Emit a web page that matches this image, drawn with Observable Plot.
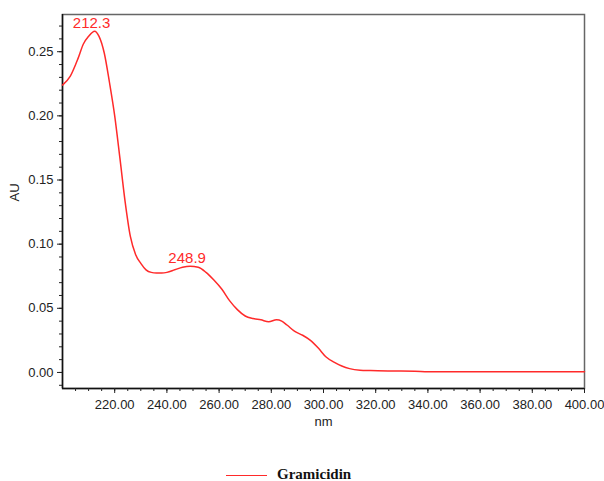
<!DOCTYPE html>
<html><head><meta charset="utf-8">
<script src="https://cdn.jsdelivr.net/npm/d3@7"></script>
<script src="https://cdn.jsdelivr.net/npm/@observablehq/plot@0.6"></script>
<style>
body{margin:0;background:#fff;font-family:"Liberation Sans",Arial,sans-serif;width:604px;height:481px;overflow:hidden}
#legend{height:15px;position:relative}
#legend .sw{position:absolute;left:226px;top:9px;width:41px;height:0;border-top:1.5px solid #ff2a2a}
#legend .lb{position:absolute;left:277px;top:1px;font:bold 15px "Liberation Serif","Times New Roman",serif;line-height:15px;color:#111}
</style>
</head><body><div id="chart"></div><div id="legend"><div class="sw"></div><div class="lb">Gramicidin</div></div>
<script>
const wavelength = [200,203,206,208,210,212.3,214,216,218,220,222,224,226,228,230,232,234,236,238,240,243,246,248.9,252,255,258,261,264,267,270,273,276,279,282,284,286,289,292,295,298,301,304,307,310,314,318,325,335,340,400];
const absorbance = [0.224,0.231,0.245,0.256,0.262,0.266,0.262,0.249,0.226,0.200,0.167,0.133,0.106,0.092,0.085,0.080,0.078,0.0775,0.0775,0.078,0.080,0.082,0.0828,0.082,0.078,0.072,0.065,0.056,0.049,0.044,0.042,0.041,0.0395,0.041,0.040,0.037,0.032,0.029,0.025,0.019,0.012,0.008,0.005,0.003,0.0018,0.0015,0.0012,0.001,0.0005,0.0005];
const peakNm = [212.3, 248.9];
const peakAU = [0.266, 0.0828];
const peakLabels = ["212.3", "248.9"];
const xTicks = [220,240,260,280,300,320,340,360,380,400];
const yTicks = [0,0.05,0.10,0.15,0.20,0.25];
const xMinor = d3.range(205, 400, 5);
const yMinor = d3.range(-0.01, 0.275, 0.01);

const spectrum = wavelength.map((w, i) => ({nm: w, au: absorbance[i]}));
const peaks = peakNm.map((w, i) => ({nm: w, au: peakAU[i], label: peakLabels[i]}));

const chart = Plot.plot({
  width: 604, height: 466,
  marginTop: 14, marginRight: 20, marginBottom: 78, marginLeft: 62,
  style: {fontFamily: '"Liberation Sans", Arial, sans-serif', fontSize: "13px", color: "#222", background: "#fff"},
  x: {domain: [200, 400]},
  y: {domain: [-0.0125, 0.279]},
  marks: [
    Plot.frame({stroke: "#666", strokeWidth: 1.5}),
    Plot.ruleX([200], {stroke: "#111", strokeWidth: 1.5}),
    Plot.ruleY([-0.0125], {stroke: "#111", strokeWidth: 1.5}),
    Plot.axisX({ticks: xMinor, tickSize: 3, tickFormat: () => "", label: null, stroke: "#222"}),
    Plot.axisY({ticks: yMinor, tickSize: 3, tickFormat: () => "", label: null, stroke: "#222"}),
    Plot.axisX({ticks: xTicks, tickSize: 5, tickPadding: 6, tickFormat: d3.format(".2f"), label: null, stroke: "#222", fontSize: 13}),
    Plot.axisY({ticks: yTicks, tickSize: 5, tickPadding: 4, tickFormat: d3.format(".2f"), label: null, stroke: "#222", fontSize: 13}),
    Plot.text(["nm"], {frameAnchor: "bottom", dy: 37, text: d => d, fontSize: 13, fill: "#222"}),
    Plot.text(["AU"], {frameAnchor: "left", dx: -48, rotate: -90, text: d => d, fontSize: 13, fill: "#222"}),
    Plot.line(spectrum, {x: "nm", y: "au", stroke: "#ff2a2a", strokeWidth: 1.5, curve: "monotone-x"}),
    Plot.text(peaks, {x: "nm", y: "au", text: "label", dy: -8, dx: -3, fill: "#ff2a2a", fontSize: 15})
  ]
});
document.getElementById("chart").appendChild(chart);
</script>
</body></html>
